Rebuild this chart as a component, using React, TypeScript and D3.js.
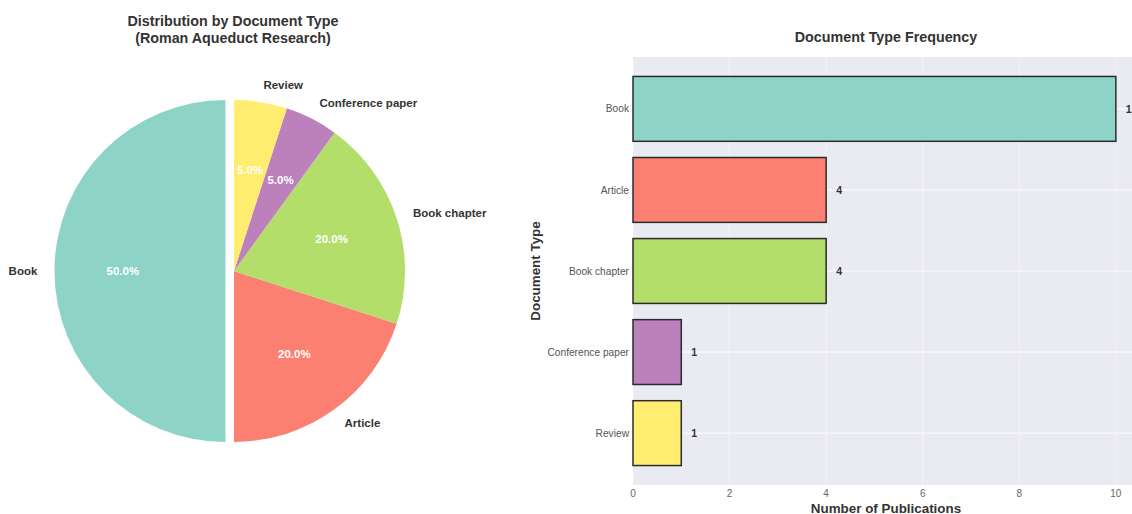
import React from "react";
import * as d3 from "d3";

const docTypes = ["Book", "Article", "Book chapter", "Conference paper", "Review"];
const counts = [10, 4, 4, 1, 1];
const colors = ["#8dd3c7", "#fb8072", "#b3de69", "#bc80bd", "#ffed6f"];
const explode = [0.05, 0, 0, 0, 0];
const xTicks = [0, 2, 4, 6, 8, 10];

const W = 1132;
const H = 514;
const font = "'Liberation Sans', Arial, sans-serif";

const pie = { cx: 234, cy: 271, r: 171 };
const bar = { left: 633, right: 1140, top: 57, bottom: 485 };

const PieChart = () => {
  const total = d3.sum(counts);
  // matplotlib style: startangle 90, counterclockwise
  const startRad = Math.PI / 2;
  let acc = 0;
  const wedges = counts.map((c, i) => {
    const a0 = startRad + (acc / total) * 2 * Math.PI;
    acc += c;
    const a1 = startRad + (acc / total) * 2 * Math.PI;
    const mid = (a0 + a1) / 2;
    const ox = pie.cx + explode[i] * pie.r * Math.cos(mid);
    const oy = pie.cy - explode[i] * pie.r * Math.sin(mid);
    // d3.arc uses clockwise angles from 12 o'clock
    const path = d3.arc()({
      innerRadius: 0,
      outerRadius: pie.r,
      startAngle: Math.PI / 2 - a1,
      endAngle: Math.PI / 2 - a0,
    } as any);
    return { i, mid, ox, oy, path, pct: (c / total) * 100 };
  });

  return (
    <g>
      <text x={233} y={26} textAnchor="middle" fontFamily={font} fontWeight="bold" fontSize={14.3} fill="#333">
        Distribution by Document Type
      </text>
      <text x={233} y={42.5} textAnchor="middle" fontFamily={font} fontWeight="bold" fontSize={14.3} fill="#333">
        (Roman Aqueduct Research)
      </text>
      {wedges.map((w) => (
        <path key={w.i} d={w.path as string} transform={`translate(${w.ox},${w.oy})`} fill={colors[w.i]} />
      ))}
      {wedges.map((w) => {
        const lx = w.ox + 1.1 * pie.r * Math.cos(w.mid);
        const ly = w.oy - 1.1 * pie.r * Math.sin(w.mid);
        const px = w.ox + 0.6 * pie.r * Math.cos(w.mid);
        const py = w.oy - 0.6 * pie.r * Math.sin(w.mid);
        return (
          <g key={"t" + w.i}>
            <text
              x={lx}
              y={ly}
              dy="0.35em"
              textAnchor={Math.cos(w.mid) < 0 ? "end" : "start"}
              fontFamily={font}
              fontWeight="bold"
              fontSize={11.5}
              fill="#333"
            >
              {docTypes[w.i]}
            </text>
            <text x={px} y={py} dy="0.35em" textAnchor="middle" fontFamily={font} fontWeight="bold" fontSize={11.5} fill="#fff">
              {w.pct.toFixed(1)}%
            </text>
          </g>
        );
      })}
    </g>
  );
};

const BarChart = () => {
  const x = d3.scaleLinear().domain([0, 10.5]).range([bar.left, bar.right]);
  const y = d3
    .scaleBand()
    .domain(docTypes)
    .range([bar.top, bar.bottom])
    .paddingInner(0.2)
    .paddingOuter(0.24);

  return (
    <g>
      <text x={886} y={42} textAnchor="middle" fontFamily={font} fontWeight="bold" fontSize={14.3} fill="#333">
        Document Type Frequency
      </text>
      <rect x={bar.left} y={bar.top} width={bar.right - bar.left} height={bar.bottom - bar.top} fill="#eaeaf2" />
      {xTicks.map((t) => (
        <line key={"gx" + t} x1={x(t)} x2={x(t)} y1={bar.top} y2={bar.bottom} stroke="#fff" strokeWidth={0.8} opacity={0.6} />
      ))}
      {docTypes.map((d) => (
        <line
          key={"gy" + d}
          x1={bar.left}
          x2={bar.right}
          y1={y(d)! + y.bandwidth() / 2}
          y2={y(d)! + y.bandwidth() / 2}
          stroke="#fff"
          strokeWidth={1}
        />
      ))}
      {docTypes.map((d, i) => (
        <rect
          key={"b" + d}
          x={x(0)}
          y={y(d)}
          width={x(counts[i]) - x(0)}
          height={y.bandwidth()}
          fill={colors[i]}
          stroke="#2b2b2b"
          strokeWidth={1.5}
        />
      ))}
      {docTypes.map((d, i) => (
        <text
          key={"v" + d}
          x={x(counts[i]) + 10}
          y={y(d)! + y.bandwidth() / 2}
          dy="0.35em"
          fontFamily={font}
          fontWeight="bold"
          fontSize={10.5}
          fill="#333"
        >
          {counts[i]}
        </text>
      ))}
      {docTypes.map((d) => (
        <text
          key={"yl" + d}
          x={bar.left - 4}
          y={y(d)! + y.bandwidth() / 2}
          dy="0.35em"
          textAnchor="end"
          fontFamily={font}
          fontSize={10.2}
          fill="#555"
        >
          {d}
        </text>
      ))}
      {xTicks.map((t) => (
        <text key={"xl" + t} x={x(t)} y={497} textAnchor="middle" fontFamily={font} fontSize={10} fill="#666">
          {t}
        </text>
      ))}
      <text x={886} y={512.5} textAnchor="middle" fontFamily={font} fontWeight="bold" fontSize={13.4} fill="#333">
        Number of Publications
      </text>
      <text
        transform={`translate(540,271) rotate(-90)`}
        textAnchor="middle"
        fontFamily={font}
        fontWeight="bold"
        fontSize={13.4}
        fill="#333"
      >
        Document Type
      </text>
    </g>
  );
};

export default function App() {
  return (
    <svg
      width={W}
      height={H}
      style={{ position: "absolute", left: 0, top: 0, background: "#fff", display: "block" }}
    >
      <PieChart />
      <BarChart />
    </svg>
  );
}
